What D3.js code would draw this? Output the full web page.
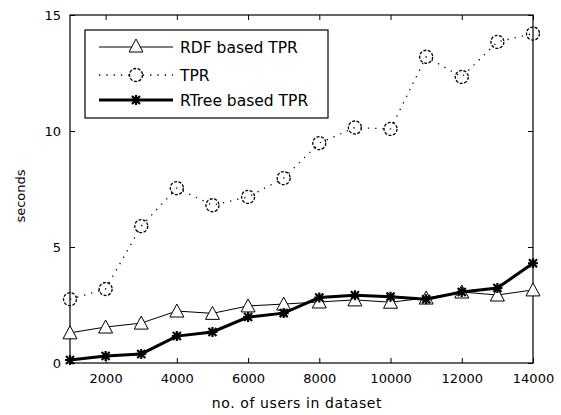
<!DOCTYPE html>
<html>
<head>
<meta charset="utf-8">
<script src="https://cdn.jsdelivr.net/npm/d3@7"></script>
<style>
	body { margin: 0; background: #fff; }
	svg { display: block; font-family: "DejaVu Sans", sans-serif; }
</style>
</head>
<body>
<div id="chart"></div>
<script>
// DATA
const users = [1000, 2000, 3000, 4000, 5000, 6000, 7000, 8000, 9000, 10000, 11000, 12000, 13000, 14000];
const rdfTpr = [1.3, 1.55, 1.72, 2.24, 2.14, 2.46, 2.54, 2.63, 2.72, 2.62, 2.8, 3.06, 2.93, 3.15];
const tpr = [2.75, 3.19, 5.9, 7.54, 6.8, 7.16, 7.97, 9.48, 10.15, 10.09, 13.2, 12.33, 13.84, 14.2];
const rtreeTpr = [0.13, 0.3, 0.39, 1.16, 1.34, 1.98, 2.15, 2.82, 2.92, 2.86, 2.75, 3.06, 3.23, 4.3];
const xTicks = [2000, 4000, 6000, 8000, 10000, 12000, 14000];
const yTicks = [0, 5, 10, 15];
const legendLabels = ['RDF based TPR', 'TPR', 'RTree based TPR'];

// CHART
function drawChart() {
	const w = 561;
	const h = 415;
	const left = 70, right = 533, top = 15, bottom = 363;

	const x = d3.scaleLinear().domain([1000, 14000]).range([left, right]);
	const y = d3.scaleLinear().domain([0, 15]).range([bottom, top]);

	const svg = d3.select('#chart').append('svg')
		.attr('width', w)
		.attr('height', h);

	// axes (ticks inside, box)
	const tickLen = 5;
	const fmt = d3.format('d');
	svg.append('g')
		.attr('transform', `translate(0,${bottom})`)
		.call(d3.axisBottom(x).tickValues(xTicks).tickFormat(fmt).tickSize(-tickLen).tickPadding(11).tickSizeOuter(0))
		.call(g => g.select('.domain').remove());
	svg.append('g')
		.attr('transform', `translate(0,${top})`)
		.call(d3.axisTop(x).tickValues(xTicks).tickSize(-tickLen).tickFormat('').tickSizeOuter(0))
		.call(g => g.select('.domain').remove());
	svg.append('g')
		.attr('transform', `translate(${left},0)`)
		.call(d3.axisLeft(y).tickValues(yTicks).tickFormat(fmt).tickSize(-tickLen).tickPadding(9).tickSizeOuter(0))
		.call(g => g.select('.domain').remove());
	svg.append('g')
		.attr('transform', `translate(${right},0)`)
		.call(d3.axisRight(y).tickValues(yTicks).tickSize(-tickLen).tickFormat('').tickSizeOuter(0))
		.call(g => g.select('.domain').remove());

	svg.selectAll('.tick text')
		.attr('font-size', 13)
		.attr('font-family', '"DejaVu Sans", sans-serif')
		.attr('fill', '#000');
	svg.selectAll('.tick line').attr('stroke', '#000');

	svg.append('rect')
		.attr('x', left).attr('y', top)
		.attr('width', right - left).attr('height', bottom - top)
		.attr('fill', 'none').attr('stroke', '#000').attr('stroke-width', 1.2);

	// axis titles
	svg.append('text')
		.attr('x', 297).attr('y', 408)
		.attr('text-anchor', 'middle').attr('font-size', 14)
		.attr('letter-spacing', 0.6)
		.text('no. of users in dataset');
	svg.append('text')
		.attr('transform', 'translate(25,196) rotate(-90)')
		.attr('text-anchor', 'middle').attr('font-size', 13)
		.text('seconds');

	const line = d3.line().x((d, i) => x(users[i])).y(d => y(d));

	// markers
	const triPath = 'M0,-7L7,6L-7,6Z';
	const starPath = 'M-5,0L5,0M0,-5L0,5M-4,-4L4,4M-4,4L4,-4';

	// TPR (dotted, circles)
	svg.append('path').datum(tpr)
		.attr('d', line)
		.attr('fill', 'none').attr('stroke', '#000')
		.attr('stroke-width', 1.3).attr('stroke-dasharray', '1.3,6');
	svg.selectAll('circle.tpr').data(tpr).enter().append('circle')
		.attr('class', 'tpr')
		.attr('cx', (d, i) => x(users[i])).attr('cy', d => y(d)).attr('r', 6.5)
		.attr('fill', 'none').attr('stroke', '#000').attr('stroke-width', 1.3)
		.attr('stroke-dasharray', '3,1.5');

	// RDF based TPR (thin, triangles)
	svg.append('path').datum(rdfTpr)
		.attr('d', line)
		.attr('fill', 'none').attr('stroke', '#000').attr('stroke-width', 1);
	svg.selectAll('path.tri').data(rdfTpr).enter().append('path')
		.attr('class', 'tri')
		.attr('d', triPath)
		.attr('transform', (d, i) => `translate(${x(users[i])},${y(d)})`)
		.attr('fill', '#fff').attr('stroke', '#000').attr('stroke-width', 1);

	// RTree based TPR (thick, stars)
	svg.append('path').datum(rtreeTpr)
		.attr('d', line)
		.attr('fill', 'none').attr('stroke', '#000').attr('stroke-width', 3);
	svg.selectAll('path.star').data(rtreeTpr).enter().append('path')
		.attr('class', 'star')
		.attr('d', starPath)
		.attr('transform', (d, i) => `translate(${x(users[i])},${y(d)})`)
		.attr('fill', 'none').attr('stroke', '#000').attr('stroke-width', 2.2);

	// legend
	const lg = svg.append('g');
	lg.append('rect')
		.attr('x', 85).attr('y', 30).attr('width', 243).attr('height', 88)
		.attr('fill', '#fff').attr('stroke', '#000').attr('stroke-width', 1.2);
	const rowsY = [47, 75, 100];
	const styles = [
		{ w: 1, dash: null },
		{ w: 1.3, dash: '1.3,6' },
		{ w: 3, dash: null }
	];
	legendLabels.forEach((label, i) => {
		const ly = rowsY[i];
		lg.append('line')
			.attr('x1', 99).attr('x2', 173).attr('y1', ly).attr('y2', ly)
			.attr('stroke', '#000').attr('stroke-width', styles[i].w)
			.attr('stroke-dasharray', styles[i].dash);
		const cx = 136;
		if (i === 0) {
			lg.append('path').attr('d', triPath)
				.attr('transform', `translate(${cx},${ly - 1})`)
				.attr('fill', '#fff').attr('stroke', '#000');
		} else if (i === 1) {
			lg.append('circle').attr('cx', cx).attr('cy', ly).attr('r', 6.5)
				.attr('fill', '#fff').attr('stroke', '#000').attr('stroke-width', 1.3)
				.attr('stroke-dasharray', '3,1.5');
		} else {
			lg.append('path').attr('d', starPath)
				.attr('transform', `translate(${cx},${ly})`)
				.attr('fill', 'none').attr('stroke', '#000').attr('stroke-width', 2.2);
		}
		lg.append('text')
			.attr('x', 180).attr('y', ly + 6)
			.attr('font-size', 15.5)
			.text(label);
	});
}

document.addEventListener('DOMContentLoaded', () => {
	drawChart();
});
</script>
</body>
</html>
